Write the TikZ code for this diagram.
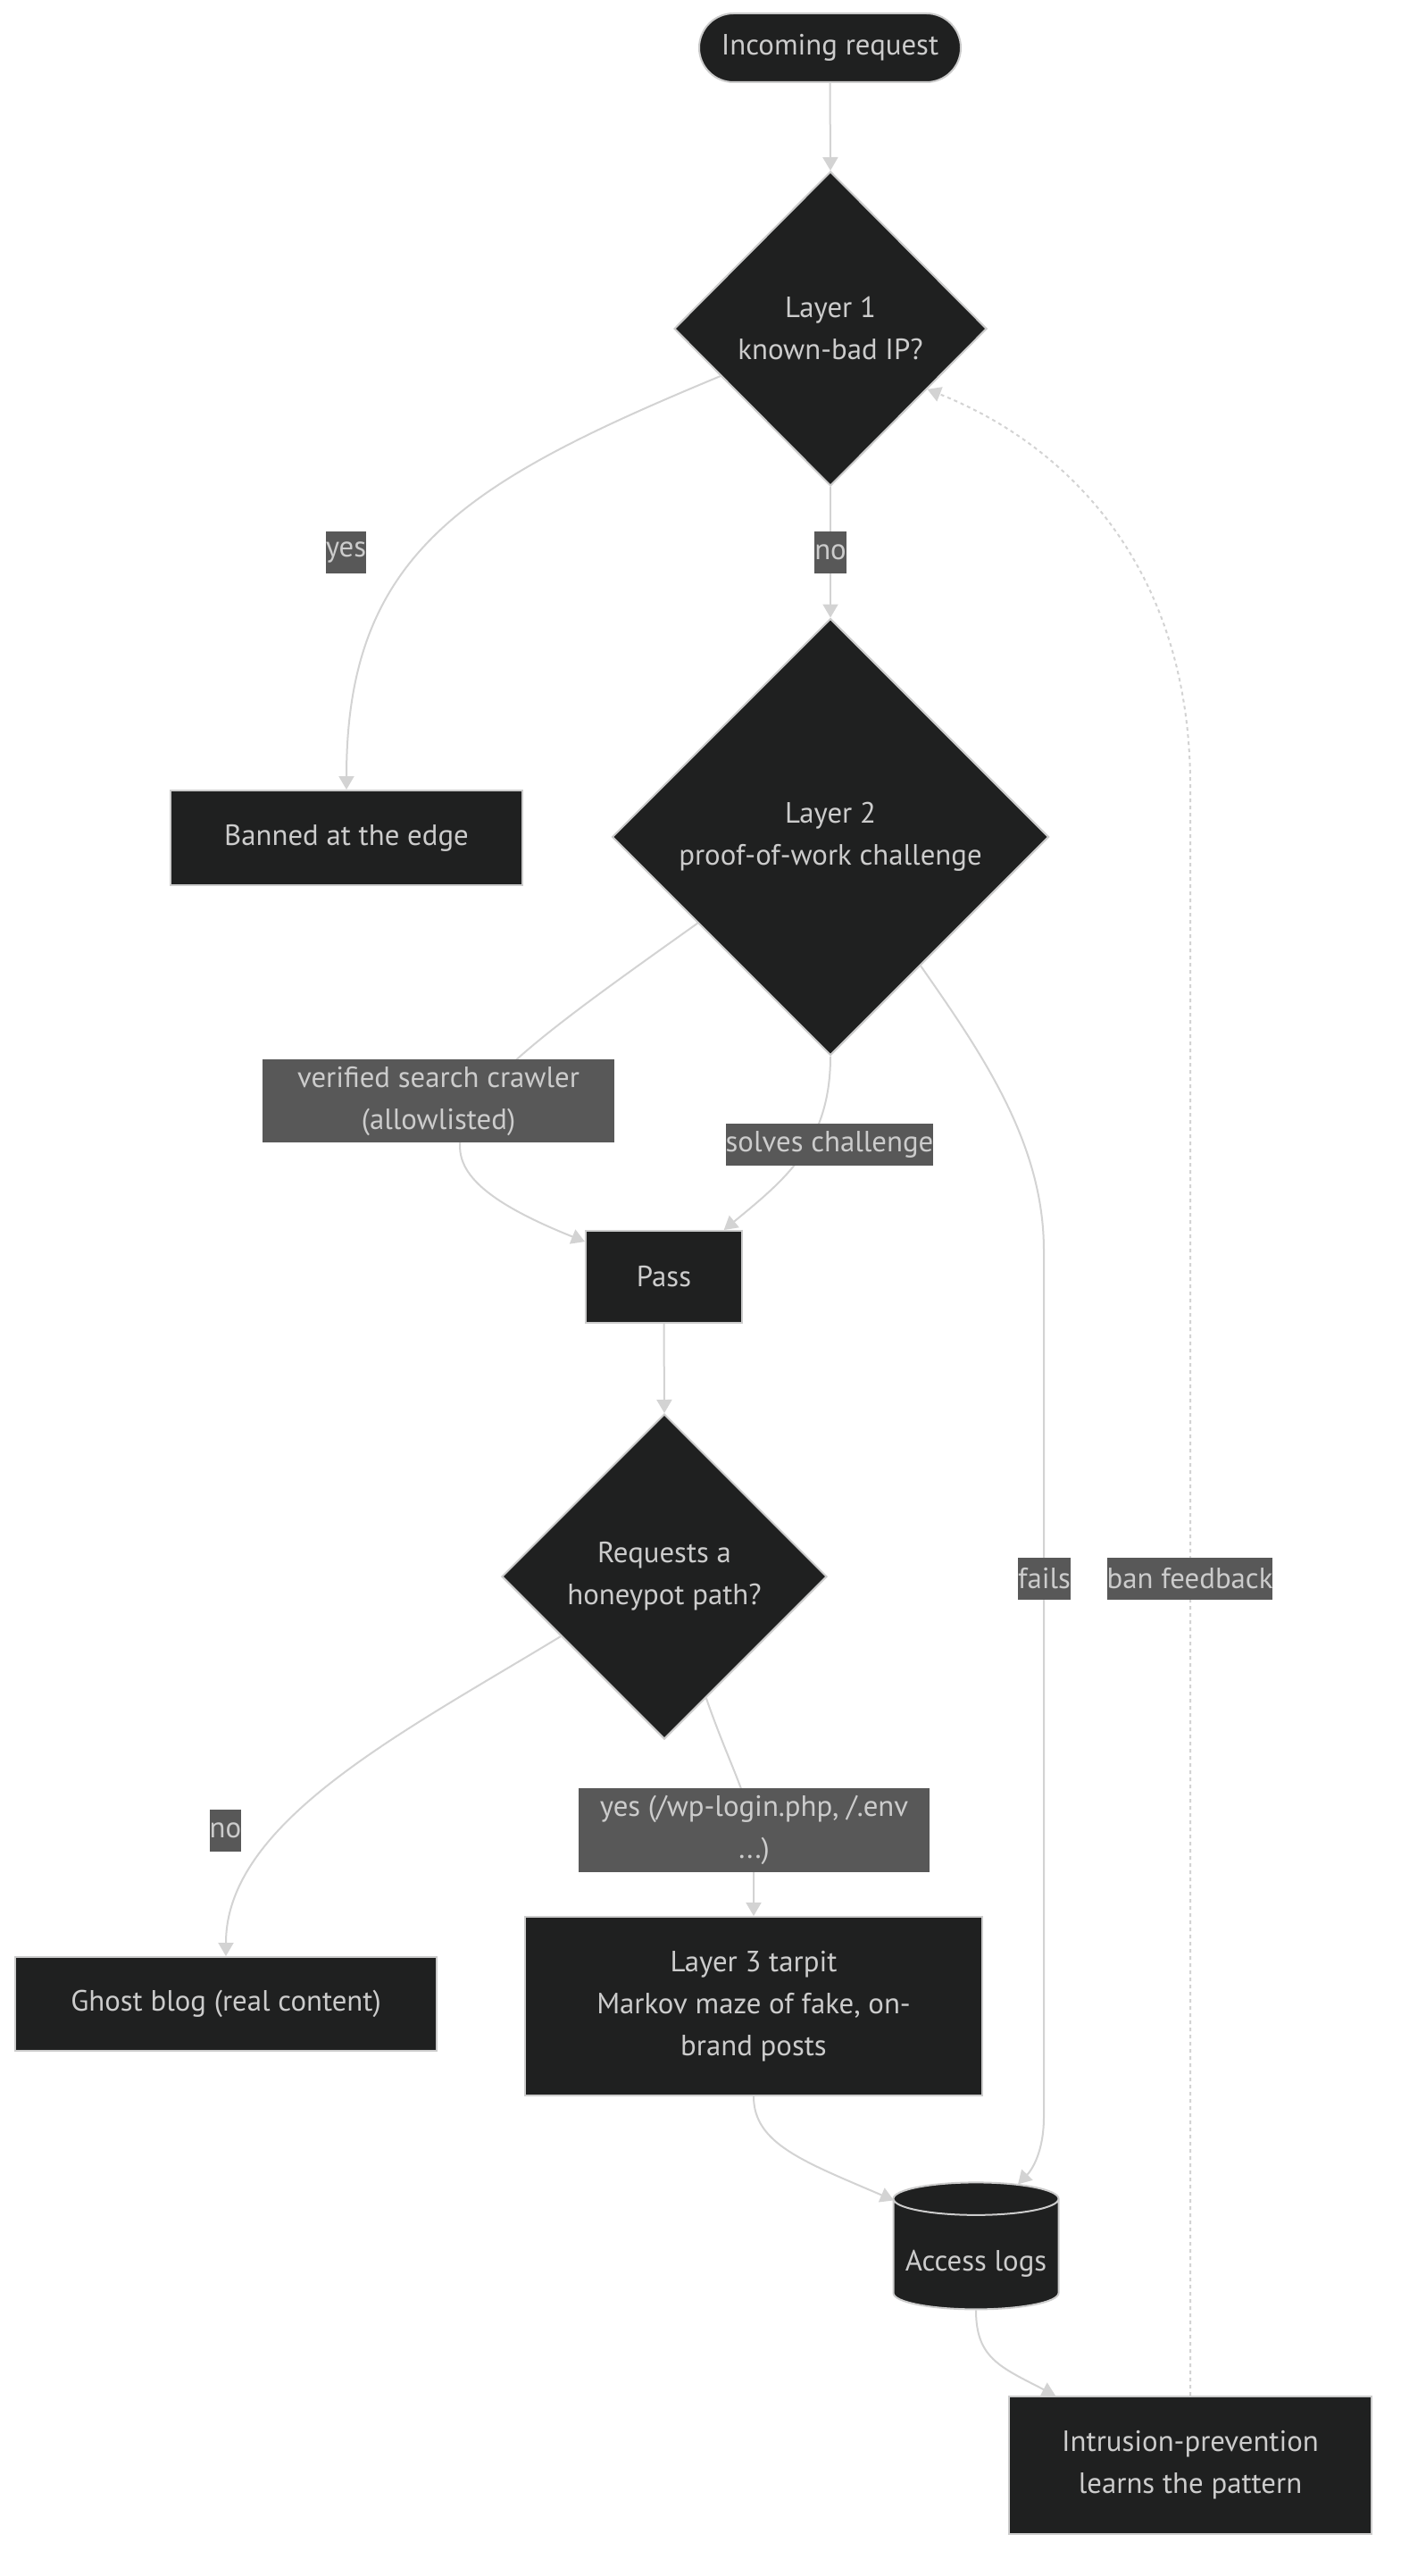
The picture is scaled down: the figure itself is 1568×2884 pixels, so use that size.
\documentclass[tikz,border=0pt]{standalone}
\usepackage{fontspec}
\setmainfont{PT Sans}
\usetikzlibrary{arrows.meta,shapes.geometric,shapes.misc,calc}
\definecolor{nodefill}{HTML}{1F2020}
\definecolor{nodeline}{HTML}{CCCCCC}
\definecolor{txt}{HTML}{CCCCCC}
\definecolor{lblfill}{HTML}{585858}
\definecolor{edgecol}{HTML}{D3D3D3}
\newcommand\dfont{\fontsize{16.4}{23.5}\selectfont}
\tikzset{
  box/.style={rectangle,fill=nodefill,draw=nodeline,line width=1pt,text=txt,font=\dfont,align=center,inner sep=0pt},
  diam/.style={diamond,fill=nodefill,draw=nodeline,line width=1pt,text=txt,font=\dfont,align=center,inner sep=0pt},
  lbl/.style={rectangle,fill=lblfill,text=txt,font=\dfont,align=center,inner xsep=0pt,inner ysep=0pt,minimum height=23.5pt},
  edge/.style={draw=edgecol,line width=1pt,-{Triangle[length=7.5pt,width=8.5pt]}},
  feedback/.style={edge,dash pattern=on 2pt off 2pt}
}
\begin{document}
\begin{tikzpicture}[x=0.5pt,y=-0.5pt]
\useasboundingbox[fill=white](0,0)rectangle(1568,2884);
% nodes
\node[box,rounded rectangle,minimum width=146.5pt,minimum height=38.5pt](in)at(929.5,53.5){Incoming request};
\node[diam,minimum width=175pt,minimum height=176pt](l1)at(930,368){Layer 1\\known-bad IP?};
\node[box,minimum width=197pt,minimum height=53pt](banned)at(388,938){Banned at the edge};
\node[diam,minimum width=244.5pt,minimum height=244.5pt](l2)at(930,937){Layer 2\\proof-of-work challenge};
\node[box,minimum width=87.5pt,minimum height=51.5pt](pass)at(743.5,1429.5){Pass};
\node[diam,minimum width=182pt,minimum height=182pt](honey)at(744,1765){Requests a\\honeypot path?};
\node[box,minimum width=236pt,minimum height=52.5pt](ghost)at(253,2243.5){Ghost blog (real content)};
\node[box,minimum width=256pt,minimum height=100pt](tarpit)at(844,2246){Layer 3 tarpit\\Markov maze of fake, on-\\brand posts};
\node[box,cylinder,shape border rotate=90,aspect=0.23,minimum width=92.5pt,minimum height=71pt](logs)at(1093,2524){\smash{\raisebox{-9pt}{Access logs}}};
\node[box,minimum width=203pt,minimum height=77pt](ips)at(1333,2760){Intrusion-prevention\\learns the pattern};
% edges
\draw[edge](in.south)--(l1.north);
\draw[edge]($(l1.west)!0.3!(l1.south)$)..controls(520,540)and(388,620)..(banned.north);
\draw[edge](l1.south)--(l2.north);
\draw[edge](l2.213)..controls(660,1120)and(560,1190)..(530,1240)..controls(500,1290)and(505,1330)..(pass.156);
\draw[edge](l2.south)..controls(930,1280)and(880,1320)..(pass.38);
\draw[edge](l2.305)..controls(1100,1180)and(1169,1280)..(1169,1400)--(1169,2370)..controls(1169,2410)and(1155,2430)..($(logs.north)+(47,3)$);
\draw[edge](pass.south)--(honey.north);
\draw[edge](honey.210)..controls(450,1940)and(253,2040)..(ghost.north);
\draw[edge](honey.289)..controls(820,1985)and(844,2020)..(844,2070)--(tarpit.north);
\draw[edge](tarpit.south)..controls(844,2400)and(900,2420)..($(logs.north)+(-92,21)$);
\draw[edge](logs.south)..controls(1093,2640)and(1120,2650)..($(ips.north west)+(53,0)$);
\draw[feedback](ips.north)--(1333,880)..controls(1333,640)and(1200,500)..(l1.328);
% labels
\node[lbl](yesA)at(387.5,618.5){yes};
\node[lbl](noA)at(930,618){no};
\node[lbl,minimum width=197pt,minimum height=46.5pt](crawl)at(491,1232.5){verified search crawler\\(allowlisted)};
\node[lbl](solve)at(929,1281.5){solves challenge};
\node[lbl](fail)at(1169.5,1767.5){fails};
\node[lbl](ban)at(1332.5,1767.5){ban feedback};
\node[lbl](noB)at(252.5,2049){no};
\node[lbl,minimum width=196.5pt,minimum height=47pt](yesB)at(844.5,2049){yes (/wp-login.php, /.env\\...)};
\end{tikzpicture}
\end{document}
